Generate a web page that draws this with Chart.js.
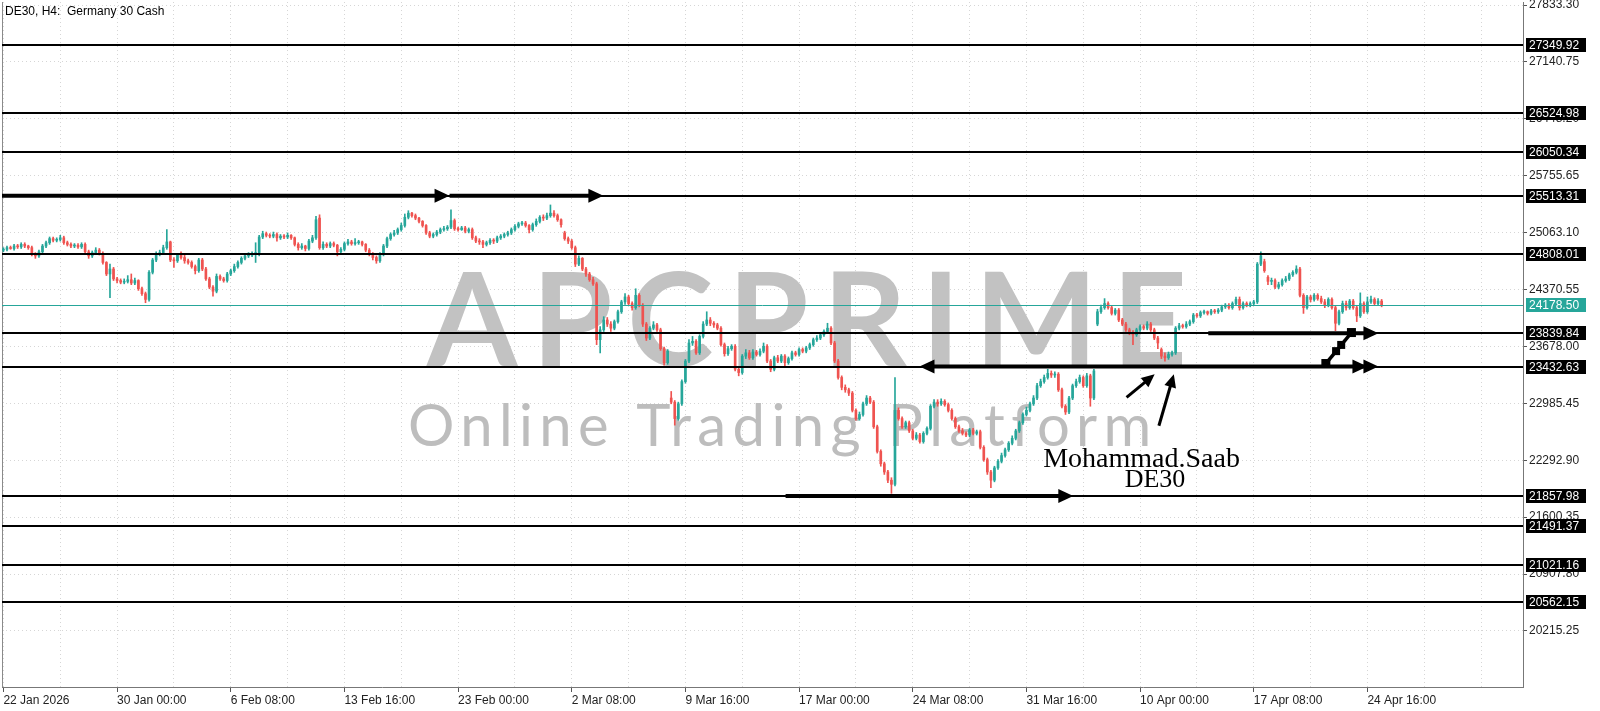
<!DOCTYPE html>
<html><head><meta charset="utf-8">
<style>html,body{margin:0;padding:0;background:#fff}#wrap{width:1600px;height:711px;position:relative}</style>
<script src="https://cdn.jsdelivr.net/npm/chart.js@4.4.1/dist/chart.umd.min.js"></script>
</head><body><div id="wrap"><canvas id="c"></canvas></div>
<script>
const symbolTitle = 'DE30, H4:  Germany 30 Cash';
const xTickLabels = ['22 Jan 2026','30 Jan 00:00','6 Feb 08:00','13 Feb 16:00','23 Feb 00:00','2 Mar 08:00','9 Mar 16:00','17 Mar 00:00','24 Mar 08:00','31 Mar 16:00','10 Apr 00:00','17 Apr 08:00','24 Apr 16:00'];
const barsPerLabel = 32;
const priceTicks = [27833.30,27140.75,26448.20,25755.65,25063.10,24370.55,23678.00,22985.45,22292.90,21600.35,20907.80,20215.25];
const levels = [27349.92,26524.98,26050.34,25513.31,24808.01,23839.84,23432.63,21857.98,21491.37,21021.16,20562.15];
const currentPrice = 24178.50;

const opens = [
24850,24860,24880,24870,24900,24890,24920,24900,24880,24800,
24780,24830,24900,24940,24990,24970,24980,25000,24940,24920,
24900,24910,24890,24920,24830,24780,24820,24850,24810,24700,
24560,24620,24500,24480,24460,24470,24490,24450,24480,24380,
24320,24250,24580,24730,24800,24820,24880,24950,24730,24720,
24790,24760,24720,24700,24650,24600,24730,24620,24500,24400,
24350,24530,24500,24480,24560,24600,24650,24700,24750,24780,
24790,24800,24820,25010,25050,25030,25020,25040,25000,25020,
25010,25030,25000,24920,24880,24900,24870,24960,25000,25240,
24880,24920,24900,24930,24910,24830,24860,24930,24950,24930,
24940,24950,24920,24850,24800,24760,24720,24800,24900,24990,
25040,25060,25100,25150,25250,25300,25270,25240,25200,25150,
25060,25020,25040,25070,25100,25110,25130,25210,25110,25100,
25120,25080,25100,25000,24960,24950,24920,24940,24970,24960,
25000,25020,25040,25060,25100,25140,25170,25180,25150,25100,
25160,25200,25250,25240,25270,25300,25270,25220,25060,24990,
24960,24880,24680,24750,24620,24560,24490,24440,23760,23880,
24000,23950,23900,23980,24100,24220,24280,24200,24150,24300,
24180,23950,23780,23900,23940,23880,23650,23480,23050,23000,
22800,22980,23250,23500,23720,23740,23600,23800,23950,24000,
23960,23940,23900,23700,23590,23650,23680,23400,23360,23560,
23600,23540,23610,23580,23620,23680,23500,23400,23540,23500,
23560,23480,23530,23600,23580,23640,23620,23660,23700,23760,
23780,23820,23860,23900,23720,23500,23300,23180,23150,23110,
22900,22800,22850,22980,23050,23000,22700,22400,22250,22150,
22050,22000,22900,22800,22700,22750,22650,22560,22600,22520,
22620,22680,22950,23000,22980,23010,22970,22900,22800,22700,
22650,22620,22600,22660,22620,22640,22450,22300,22150,22050,
22200,22280,22350,22420,22500,22560,22650,22750,22850,22900,
22980,23050,23200,23250,23300,23350,23330,23340,23150,22950,
22880,23050,23200,23250,23300,23200,23320,23050,23950,24100,
24150,24200,24150,24080,24120,24000,23950,23880,23850,23820,
23880,23920,23900,23950,23880,23780,23640,23560,23540,23580,
23600,23900,23930,23920,23950,23980,24060,24050,24090,24100,
24080,24110,24100,24120,24160,24180,24150,24200,24250,24150,
24200,24180,24200,24220,24680,24710,24520,24470,24480,24400,
24430,24480,24500,24550,24580,24620,24300,24150,24280,24250,
24300,24260,24220,24180,24250,24150,23960,24100,24200,24150,
24230,24150,24050,24200,24100,24220,24250,24200,24230];

const highs = [
24880,24900,24900,24920,24920,24940,24940,24910,24900,24820,
24850,24920,24960,25010,25010,25000,25030,25020,24960,24940,
24930,24930,24940,24940,24850,24840,24880,24870,24830,24710,
24680,24640,24520,24500,24500,24540,24560,24510,24490,24400,
24340,24600,24750,24830,24850,24910,25100,24960,24760,24810,
24830,24790,24740,24720,24670,24750,24750,24640,24520,24420,
24560,24550,24520,24580,24620,24680,24720,24770,24800,24820,
24830,24940,25030,25080,25070,25050,25070,25060,25040,25040,
25060,25040,25010,24940,24930,24910,24980,25030,25260,25280,
24950,24940,24950,24950,24920,24880,24950,24980,24970,24990,
24970,24960,24930,24870,24820,24780,24820,24920,25010,25060,
25090,25120,25180,25290,25330,25310,25290,25250,25210,25160,
25080,25060,25090,25120,25140,25150,25340,25230,25130,25140,
25140,25120,25120,25020,24990,24970,24960,24990,24990,25020,
25040,25060,25080,25120,25160,25190,25200,25200,25160,25180,
25230,25270,25280,25300,25400,25330,25290,25230,25080,25010,
24980,24900,24780,24760,24640,24580,24520,24460,23920,24040,
24030,23980,24000,24120,24240,24320,24300,24220,24380,24320,
24200,23970,23920,23980,23960,23900,23670,23640,23130,23020,
23000,23270,23520,23760,23800,23760,23820,23980,24100,24030,
23980,23960,23920,23720,23680,23700,23700,23430,23580,23640,
23630,23640,23630,23650,23720,23700,23520,23560,23570,23580,
23580,23550,23620,23620,23660,23660,23680,23720,23780,23810,
23840,23880,23960,23920,23740,23520,23320,23210,23170,23130,
22920,22880,23000,23080,23070,23020,22720,22420,22270,22170,
22080,23300,22930,22820,22770,22770,22670,22630,22620,22640,
22700,22970,23030,23030,23040,23030,22990,22920,22820,22720,
22680,22640,22680,22680,22660,22660,22470,22320,22170,22220,
22300,22380,22440,22520,22590,22670,22770,22870,22940,23000,
23080,23230,23280,23330,23400,23380,23370,23360,23170,22970,
23070,23220,23280,23330,23320,23350,23340,23400,24130,24180,
24260,24220,24170,24140,24140,24020,23970,23900,23870,23900,
23940,23940,23980,23970,23900,23800,23660,23600,23610,23620,
23920,23960,23950,23980,24000,24080,24080,24110,24120,24110,
24130,24130,24140,24180,24200,24200,24220,24280,24280,24220,
24220,24220,24240,24700,24830,24740,24540,24510,24500,24460,
24500,24530,24570,24600,24660,24640,24320,24300,24300,24320,
24320,24290,24250,24270,24270,24170,24120,24230,24230,24250,
24250,24170,24330,24220,24280,24290,24270,24260,24250];

const lows = [
24830,24840,24860,24850,24870,24870,24880,24860,24780,24750,
24760,24810,24880,24920,24950,24950,24960,24920,24900,24880,
24880,24870,24870,24810,24750,24760,24800,24790,24680,24540,
24270,24480,24450,24440,24440,24450,24430,24430,24360,24300,
24210,24230,24560,24710,24780,24800,24860,24710,24640,24700,
24740,24690,24680,24630,24560,24580,24600,24480,24380,24290,
24330,24480,24460,24460,24540,24580,24630,24680,24730,24760,
24770,24700,24780,24990,25010,25000,25000,24960,24980,24990,
24990,24980,24900,24850,24860,24840,24850,24940,24980,24860,
24860,24880,24880,24890,24780,24810,24840,24910,24910,24910,
24920,24900,24830,24780,24730,24690,24700,24780,24880,24970,
25020,25040,25080,25130,25230,25250,25220,25180,25130,25040,
25000,25000,25020,25050,25080,25090,25110,25090,25080,25090,
25060,25060,24980,24940,24920,24880,24900,24920,24930,24940,
24980,25000,25020,25040,25080,25120,25150,25130,25060,25080,
25140,25180,25210,25220,25250,25250,25200,25130,24970,24930,
24860,24650,24660,24600,24530,24470,24420,23700,23600,23860,
23920,23860,23880,23960,24080,24190,24180,24120,24130,24160,
23920,23750,23760,23880,23860,23630,23450,23460,22980,22720,
22780,22960,23230,23480,23690,23580,23580,23780,23930,23930,
23910,23880,23680,23560,23570,23630,23380,23320,23340,23530,
23520,23520,23560,23560,23600,23480,23370,23380,23480,23480,
23420,23460,23510,23560,23560,23600,23600,23640,23680,23740,
23760,23800,23840,23700,23480,23280,23150,23120,23080,22880,
22780,22780,22830,22960,22980,22680,22380,22220,22120,22020,
21890,21980,22780,22680,22680,22630,22540,22540,22500,22500,
22600,22660,22930,22950,22960,22950,22880,22780,22680,22630,
22600,22580,22580,22600,22600,22430,22280,22120,21960,22030,
22180,22260,22330,22400,22480,22540,22630,22730,22830,22880,
22960,23030,23180,23230,23280,23300,23300,23130,22930,22850,
22860,23030,23180,23230,23180,23180,22950,23030,23930,24080,
24130,24130,24060,24060,23980,23930,23860,23820,23700,23800,
23860,23880,23880,23860,23760,23650,23530,23500,23520,23560,
23580,23880,23900,23900,23930,23960,24030,24030,24070,24060,
24060,24080,24080,24100,24140,24130,24130,24180,24120,24130,
24160,24160,24180,24200,24660,24580,24430,24430,24380,24380,
24410,24460,24480,24530,24560,24280,24080,24130,24220,24230,
24240,24200,24150,24160,24130,23870,23940,24080,24120,24130,
24130,23980,24030,24080,24080,24200,24180,24180,24160];

const closes = [
24860,24880,24870,24900,24890,24920,24900,24880,24800,24780,
24830,24900,24940,24990,24970,24980,25000,24940,24920,24900,
24910,24890,24920,24830,24780,24820,24850,24810,24700,24560,
24620,24500,24480,24460,24470,24490,24450,24480,24380,24320,
24250,24580,24730,24800,24820,24880,24950,24730,24720,24790,
24760,24720,24700,24650,24600,24730,24620,24500,24400,24350,
24530,24500,24480,24560,24600,24650,24700,24750,24780,24790,
24800,24820,25010,25050,25030,25020,25040,25000,25020,25010,
25030,25000,24920,24880,24900,24870,24960,25000,25220,24880,
24920,24900,24930,24910,24830,24860,24930,24950,24930,24940,
24950,24920,24850,24800,24760,24720,24800,24900,24990,25040,
25060,25100,25150,25250,25300,25270,25240,25200,25150,25060,
25020,25040,25070,25100,25110,25130,25210,25110,25100,25120,
25080,25100,25000,24960,24950,24920,24940,24970,24960,25000,
25020,25040,25060,25100,25140,25170,25180,25150,25100,25160,
25200,25250,25240,25270,25300,25270,25220,25160,24990,24960,
24880,24680,24750,24620,24560,24490,24440,23760,23880,24000,
23950,23900,23980,24100,24220,24280,24200,24150,24300,24180,
23950,23780,23900,23940,23880,23650,23480,23620,23000,22800,
22980,23250,23500,23720,23740,23600,23800,23950,24000,23960,
23940,23900,23700,23590,23650,23680,23400,23360,23560,23600,
23540,23610,23580,23620,23680,23500,23400,23540,23500,23560,
23480,23530,23600,23580,23640,23620,23660,23700,23760,23780,
23820,23860,23900,23720,23500,23300,23180,23150,23110,22900,
22800,22850,22980,23050,23000,22700,22400,22250,22150,22050,
22000,22900,22800,22700,22750,22650,22560,22600,22520,22620,
22680,22950,23000,22980,23010,22970,22900,22800,22700,22650,
22620,22600,22660,22620,22640,22450,22300,22150,22050,22200,
22280,22350,22420,22500,22560,22650,22750,22850,22900,22980,
23050,23200,23250,23300,23350,23330,23340,23150,22950,22880,
23050,23200,23250,23300,23200,23320,23050,23380,24100,24150,
24200,24150,24080,24120,24000,23950,23880,23850,23820,23880,
23920,23900,23950,23880,23780,23720,23560,23540,23580,23600,
23900,23930,23920,23950,23980,24060,24050,24090,24100,24080,
24110,24100,24120,24160,24180,24150,24200,24250,24150,24200,
24180,24200,24220,24680,24780,24600,24470,24480,24400,24430,
24480,24500,24550,24580,24620,24300,24150,24280,24250,24300,
24260,24220,24180,24250,24150,23960,24100,24200,24150,24230,
24150,24050,24200,24100,24220,24250,24200,24230,24178.5];

// hand-drawn annotations, in data coordinates: [bar, price]
const arrowLines = [
  // [fromBar, fromPrice, toBar, toPrice, headsAtStart, headsAtEnd]
  [-0.4, 25513.31, 125.6, 25513.31, 0, 1],
  [125.6, 25513.31, 168.9, 25513.31, 0, 1],
  [257.9, 23432.63, 387.1, 23432.63, 1, 2],
  [339.2, 23839.84, 387.1, 23839.84, 0, 1],
  [220.2, 21857.98, 301.2, 21857.98, 0, 1]
];
const smallArrows = [
  [316.2, 23059, 324.1, 23339],
  [325.3, 22713, 329.5, 23339]
];
const stepLine = [[372.3, 23470], [379.5, 23847]];
const notes = [
  ['Mohammad.Saab', 320.4, 22210, 28],
  ['DE30', 324.2, 21967, 26]
];

const upColor = '#26a69a', downColor = '#ef5350';
const idx = closes.map((_, i) => i);
const colors = idx.map(i => closes[i] >= opens[i] ? upColor : downColor);

function head(ctx, x, y, ang, len, half) {
  ctx.beginPath();
  ctx.moveTo(x, y);
  ctx.lineTo(x - len * Math.cos(ang) + half * Math.sin(ang), y - len * Math.sin(ang) - half * Math.cos(ang));
  ctx.lineTo(x - len * Math.cos(ang) - half * Math.sin(ang), y - len * Math.sin(ang) + half * Math.cos(ang));
  ctx.closePath();
  ctx.fill();
}
function fitText(ctx, text, font, x1, x2, baseline) {
  ctx.font = font;
  ctx.letterSpacing = '0px';
  const w = ctx.measureText(text).width;
  const ls = (x2 - x1 - w) / (text.length - 1);
  ctx.letterSpacing = ls + 'px';
  ctx.textAlign = 'left';
  ctx.textBaseline = 'alphabetic';
  ctx.fillText(text, x1, baseline);
  ctx.letterSpacing = '0px';
}

const annot = {
  id: 'annot',
  beforeDatasetsDraw(chart) {
    const { ctx, chartArea: a } = chart;
    const W = a.right - a.left, H = a.bottom - a.top;
    ctx.save();
    ctx.strokeStyle = '#8a8a8a'; ctx.lineWidth = 1;
    ctx.beginPath(); ctx.moveTo(a.left + 0.5, a.top); ctx.lineTo(a.left + 0.5, a.bottom); ctx.stroke();
    ctx.fillStyle = '#c2c2c2';
    fitText(ctx, 'APCPRIME', 'bold ' + Math.round(H * 0.190) + 'px Lato', a.left + W * 0.2794, a.left + W * 0.7791, a.top + H * 0.5314);
    ctx.fillStyle = '#bdbdbd';
    fitText(ctx, 'Online Trading Platform', Math.round(H * 0.0847) + 'px Lato', a.left + W * 0.2669, a.left + W * 0.7548, a.top + H * 0.6482);
    ctx.restore();
  },
  afterDatasetsDraw(chart) {
    const { ctx, chartArea: a, scales: { x, y } } = chart;
    ctx.save();
    ctx.strokeStyle = '#000'; ctx.lineWidth = 2;
    levels.forEach(v => {
      const py = Math.round(y.getPixelForValue(v));
      ctx.beginPath(); ctx.moveTo(a.left, py); ctx.lineTo(a.right, py); ctx.stroke();
    });
    const cp = Math.round(y.getPixelForValue(currentPrice)) + 0.5;
    ctx.strokeStyle = upColor; ctx.lineWidth = 1;
    ctx.beginPath(); ctx.moveTo(a.left, cp); ctx.lineTo(a.right, cp); ctx.stroke();
    ctx.strokeStyle = '#000'; ctx.fillStyle = '#000'; ctx.lineWidth = 4;
    arrowLines.forEach(([b1, p1, b2, p2, hs, he]) => {
      const x1 = Math.max(a.left, x.getPixelForValue(b1)), y1 = y.getPixelForValue(p1);
      const x2 = x.getPixelForValue(b2), y2 = y.getPixelForValue(p2);
      const ang = Math.atan2(y2 - y1, x2 - x1);
      ctx.beginPath();
      ctx.moveTo(x1 + (hs ? 8 * Math.cos(ang) : 0), y1);
      ctx.lineTo(x2 - (he ? 8 * Math.cos(ang) : 0), y2);
      ctx.stroke();
      for (let k = 0; k < he; k++) head(ctx, x2 - k * 11 * Math.cos(ang), y2, ang, 15, 7);
      for (let k = 0; k < hs; k++) head(ctx, x1 + k * 11 * Math.cos(ang), y1, ang + Math.PI, 15, 7);
    });
    ctx.lineWidth = 3;
    smallArrows.forEach(([b1, p1, b2, p2]) => {
      const x1 = x.getPixelForValue(b1), y1 = y.getPixelForValue(p1);
      const x2 = x.getPixelForValue(b2), y2 = y.getPixelForValue(p2);
      const ang = Math.atan2(y2 - y1, x2 - x1);
      ctx.beginPath(); ctx.moveTo(x1, y1);
      ctx.lineTo(x2 - 8 * Math.cos(ang), y2 - 8 * Math.sin(ang)); ctx.stroke();
      head(ctx, x2, y2, ang, 13, 6);
    });
    const sx1 = x.getPixelForValue(stepLine[0][0]), sy1 = y.getPixelForValue(stepLine[0][1]);
    const sx2 = x.getPixelForValue(stepLine[1][0]), sy2 = y.getPixelForValue(stepLine[1][1]);
    ctx.lineWidth = 3.5;
    ctx.beginPath(); ctx.moveTo(sx1, sy1); ctx.lineTo(sx2, sy2); ctx.stroke();
    [[0, 9], [0.4, 8], [0.6, 8], [1, 9]].forEach(([t, s]) => {
      const cx = sx1 + (sx2 - sx1) * t, cy = sy1 + (sy2 - sy1) * t;
      ctx.fillRect(cx - s / 2, cy - s / 2, s, s);
    });
    ctx.fillStyle = '#000';
    ctx.textAlign = 'center'; ctx.textBaseline = 'alphabetic';
    notes.forEach(([t, b, p, fs]) => {
      ctx.font = fs + 'px "Liberation Serif"';
      ctx.fillText(t, x.getPixelForValue(b), y.getPixelForValue(p));
    });
    ctx.font = '12px "Liberation Sans"';
    ctx.textAlign = 'left'; ctx.textBaseline = 'middle';
    const box = (v, bg) => {
      const py = Math.round(y.getPixelForValue(v));
      ctx.fillStyle = bg; ctx.fillRect(a.right + 3, py - 7, 60, 14);
      ctx.fillStyle = '#fff'; ctx.fillText(v.toFixed(2), a.right + 6, py + 0.5);
    };
    levels.forEach(v => box(v, '#000'));
    box(currentPrice, upColor);
    ctx.fillStyle = '#000';
    ctx.font = '12px "Liberation Sans"';
    ctx.fillText(symbolTitle, a.left + 3, a.top + 10);
    ctx.restore();
  }
};

new Chart(document.getElementById('c'), {
  type: 'bar',
  data: {
    datasets: [
      { data: idx.map(i => ({ x: i, y: [lows[i], highs[i]] })), backgroundColor: colors, barThickness: 1, grouped: false, borderWidth: 0, order: 2 },
      { data: idx.map(i => ({ x: i, y: [Math.min(opens[i], closes[i]), Math.max(opens[i], closes[i])] })), backgroundColor: colors, barThickness: 2, minBarLength: 1, grouped: false, borderWidth: 0, order: 1 }
    ]
  },
  options: {
    responsive: true, maintainAspectRatio: false, animation: false, events: [],
    layout: { padding: { left: 2, top: 2, right: 0, bottom: 0 } },
    plugins: { legend: { display: false }, tooltip: { enabled: false } },
    scales: {
      x: {
        type: 'linear', min: -0.4, max: 427.8, offset: false, bounds: 'data',
        afterBuildTicks: s => { const t = []; for (let v = 0; v <= 416; v += 16) t.push({ value: v }); s.ticks = t; },
        afterFit: s => { s.height = 24; s.paddingLeft = 0; s.paddingRight = 0; },
        ticks: {
          autoSkip: false, maxRotation: 0, minRotation: 0, align: 'start', padding: 1, color: '#222',
          font: { family: 'Liberation Sans', size: 12 },
          callback: v => (v % barsPerLabel === 0 ? (xTickLabels[v / barsPerLabel] || '') : '')
        },
        grid: {
          offset: false, color: '#d6d6d6', lineWidth: 1, tickLength: 5,
          tickColor: c => (c.tick && c.tick.value % barsPerLabel === 0 && c.tick.value / barsPerLabel < xTickLabels.length) ? '#555' : 'rgba(0,0,0,0)'
        },
        border: { color: '#777', width: 1, dash: [1, 3] }
      },
      y: {
        type: 'linear', position: 'right', min: 19533, max: 27870, bounds: 'data',
        afterBuildTicks: s => { s.ticks = priceTicks.slice().sort((p, q) => p - q).map(v => ({ value: v })); },
        afterFit: s => { s.width = 77; s.paddingTop = 0; s.paddingBottom = 0; },
        ticks: { autoSkip: false, padding: 2, color: '#222', font: { family: 'Liberation Sans', size: 12 }, callback: v => Number(v).toFixed(2) },
        grid: { color: '#d6d6d6', lineWidth: 1, tickLength: 4, tickColor: '#555' },
        border: { color: '#777', width: 1, dash: [1, 3] }
      }
    }
  },
  plugins: [annot]
});
</script>
</body></html>
